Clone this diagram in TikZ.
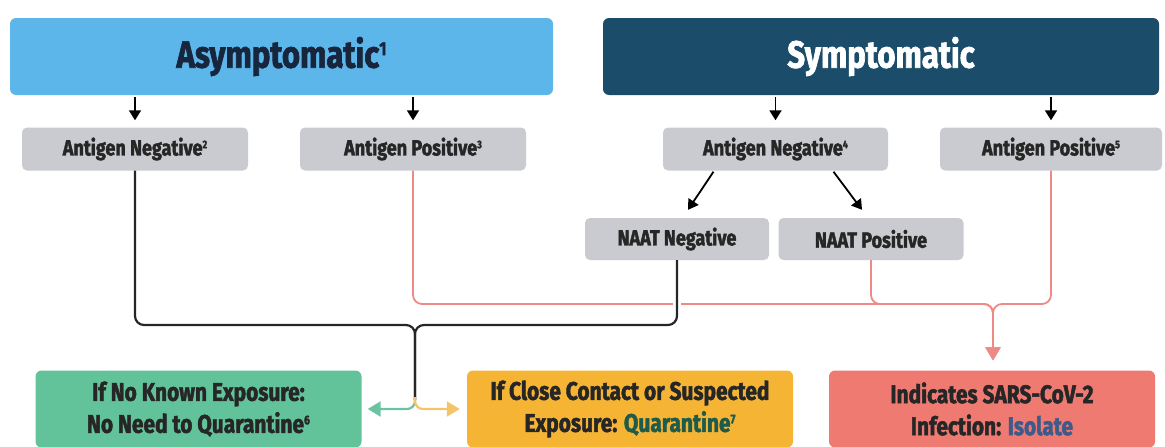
\documentclass[tikz,border=0pt]{standalone}
\usepackage{fontspec}
\setmainfont{Fira Sans}[FakeStretch=0.82, BoldFeatures={FakeBold=1.8}]
\usetikzlibrary{arrows.meta}
\definecolor{asymblue}{HTML}{5CB6EA}
\definecolor{symblue}{HTML}{1B4C69}
\definecolor{navytext}{HTML}{17253D}
\definecolor{graybox}{HTML}{C9CBD0}
\definecolor{darktext}{HTML}{262626}
\definecolor{greenbox}{HTML}{62C39A}
\definecolor{yellowbox}{HTML}{F6B434}
\definecolor{redbox}{HTML}{EE7A72}
\definecolor{linered}{HTML}{EE8A85}
\definecolor{linegreen}{HTML}{6CC3A0}
\definecolor{lineyellow}{HTML}{F4C46A}
\definecolor{quargreen}{HTML}{1E5B4A}
\definecolor{isoblue}{HTML}{3D5A8A}
\newcommand\supn[1]{\raisebox{0.33em}{\scalebox{0.5}{#1}}}
\tikzset{
  titlebox/.style={rounded corners=6pt, minimum height=77pt, inner sep=0pt, font=\bfseries\fontsize{38}{40}\selectfont},
  graynode/.style={fill=graybox, rounded corners=5pt, minimum height=43pt, inner sep=0pt, text=darktext, font=\bfseries\fontsize{22}{24}\selectfont},
  resultbox/.style={rounded corners=6pt, minimum width=326pt, minimum height=77pt, inner sep=0pt, align=center, text=darktext, font=\bfseries\fontsize{25.5}{32}\selectfont},
  blackarrow/.style={draw=black, line width=1.8pt, -{Triangle[width=12pt,length=10pt]}},
  blackline/.style={draw=black!85, line width=2.2pt, rounded corners=9pt},
  redline/.style={draw=linered, line width=1.8pt, rounded corners=9pt},
  bigtip/.style={-{Triangle[width=15pt,length=13pt]}},
}
\begin{document}
\begin{tikzpicture}[x=1pt,y=-1pt]
\useasboundingbox (0,0) rectangle (1165,447);
% title boxes
\node[titlebox, fill=asymblue, minimum width=543pt, text=navytext] (asym) at (281.5,56.5) {Asymptomatic\supn{1}};
\node[titlebox, fill=symblue, minimum width=556pt, text=white] (sym) at (881,56.5) {Symptomatic};
% gray nodes
\node[graynode, minimum width=226pt] (an2) at (135,149) {Antigen Negative\supn{2}};
\node[graynode, minimum width=226pt] (ap3) at (413,149) {Antigen Positive\supn{3}};
\node[graynode, minimum width=225pt] (an4) at (775.5,149) {Antigen Negative\supn{4}};
\node[graynode, minimum width=222pt] (ap5) at (1051,149) {Antigen Positive\supn{5}};
\node[graynode, minimum width=184pt, minimum height=42pt] (naatn) at (677,239) {NAAT Negative};
\node[graynode, minimum width=185pt, minimum height=42pt] (naatp) at (871,239) {NAAT Positive};
% result boxes
\node[resultbox, fill=greenbox] (gbox) at (198.5,409) {If No Known Exposure:\\No Need to Quarantine\supn{6}};
\node[resultbox, fill=yellowbox] (ybox) at (630,409) {If Close Contact or Suspected\\Exposure: \textcolor{quargreen}{Quarantine\supn{7}}};
\node[resultbox, fill=redbox] (rbox) at (992,409) {Indicates SARS-CoV-2\\Infection: \textcolor{isoblue}{Isolate}};
% coordinates
\coordinate (jr) at (993,304);
\coordinate (jb) at (415,325);
\coordinate (jb2) at (415,400);
\coordinate (jb3) at (415,397);
% black arrows from title boxes
\draw[blackarrow] ([yshift=-2pt]asym.south -| an2.north) -- ([yshift=7pt]an2.north);
\draw[blackarrow] ([yshift=-2pt]asym.south -| ap3.north) -- ([yshift=7pt]ap3.north);
\draw[blackarrow] ([yshift=-2pt]sym.south -| an4.north) -- ([yshift=7pt]an4.north);
\draw[blackarrow] ([yshift=-2pt]sym.south -| ap5.north) -- ([yshift=7pt]ap5.north);
\draw[blackarrow] ([xshift=-62pt,yshift=-1pt]an4.south) -- ([xshift=11pt,yshift=8pt]naatn.north);
\draw[blackarrow] ([xshift=58pt,yshift=-1pt]an4.south) -- ([xshift=-9pt,yshift=8pt]naatp.north);
% red connectors
\draw[redline, bigtip] (ap3.south) |- (jr) -- ([yshift=10pt]rbox.north -| jr);
\draw[redline, bigtip] (naatp.south) |- (jr) -- ([yshift=10pt]rbox.north -| jr);
\draw[redline, bigtip] (ap5.south) |- (jr) -- ([yshift=10pt]rbox.north -| jr);
% gap where black crosses red
\draw[white, line width=8pt] ([yshift=6pt]naatn.south |- jr) -- ([yshift=-6pt]naatn.south |- jr);
% black connectors
\draw[blackline] (an2.south) |- (jb) -- (jb2);
\draw[blackline] (naatn.south) |- (jb) -- (jb2);
% green and yellow
\draw[draw=linegreen, line width=2.2pt, rounded corners=8pt, bigtip] (jb3) |- ([xshift=6pt]gbox.east);
\draw[draw=lineyellow, line width=2.2pt, rounded corners=8pt, bigtip] (jb3) |- ([xshift=-7pt]ybox.west);
\end{tikzpicture}
\end{document}
